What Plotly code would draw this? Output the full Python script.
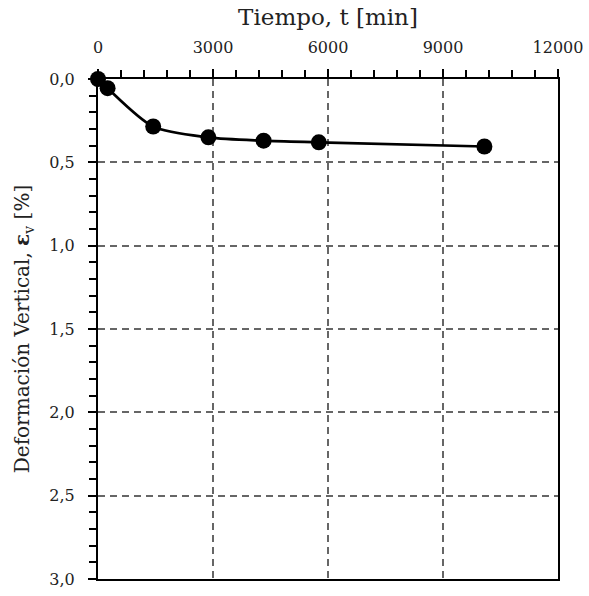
import plotly.graph_objects as go

tiempo = [0, 250, 1440, 2880, 4320, 5760, 10080]
deformacion = [0.0, 0.055, 0.285, 0.35, 0.37, 0.38, 0.405]

x_ticks = [0, 3000, 6000, 9000, 12000]
y_ticks = [0.0, 0.5, 1.0, 1.5, 2.0, 2.5, 3.0]

FONT = "'DejaVu Serif', 'Liberation Serif', serif"
TXT = "#222"
GRID = "#666"

fig = go.Figure()
fig.add_trace(go.Scatter(
    x=tiempo, y=deformacion, mode="lines+markers",
    line=dict(color="black", width=2.7, shape="spline", smoothing=0.8),
    marker=dict(color="black", size=16),
    showlegend=False, cliponaxis=False,
))

fig.update_layout(
    width=589, height=596,
    margin=dict(l=98, r=31, t=79, b=17),
    paper_bgcolor="white", plot_bgcolor="white",
    separators=",.",
    font=dict(family=FONT, size=16, color=TXT),
)
common = dict(
    showline=True, linecolor="black", linewidth=2, mirror=True,
    ticks="outside", ticklen=8, tickwidth=2, tickcolor="black",
    showgrid=True, gridcolor=GRID, griddash="7px,5px", gridwidth=1.5,
    zeroline=False, ticklabelstandoff=10, automargin=False,
    ticklabeloverflow="allow",
    tickfont=dict(family=FONT, size=16, color=TXT),
)
fig.update_xaxes(
    side="top", range=[0, 12000], tickvals=x_ticks,
    ticktext=[str(v) for v in x_ticks],
    minor=dict(dtick=600, ticks="outside", ticklen=7, tickwidth=1.5, tickcolor="black", showgrid=False),
    title=dict(text="Tiempo, t [min]", font=dict(family=FONT, size=23, color=TXT), standoff=6),
    **common,
)
fig.update_yaxes(
    range=[3.0, 0.0], tickvals=y_ticks, tickformat=".1f",
    minor=dict(dtick=0.1, ticks="outside", ticklen=7, tickwidth=1.5, tickcolor="black", showgrid=False),
    title=dict(text="Deformación Vertical, <b>ε</b><sub>v</sub> [%]", font=dict(family=FONT, size=20, color=TXT), standoff=14),
    **common,
)

fig.write_html("out.html", config={"displayModeBar": False},
               post_script="document.body.style.margin='0';")
